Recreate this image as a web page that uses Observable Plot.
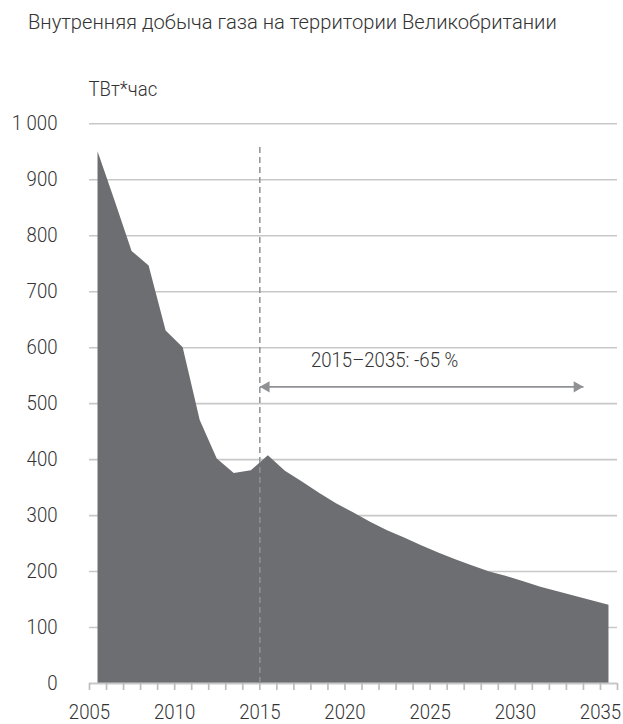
<!DOCTYPE html>
<html>
<head>
<meta charset="utf-8">
<script src="https://cdn.jsdelivr.net/npm/d3@7"></script>
<script src="https://cdn.jsdelivr.net/npm/@observablehq/plot@0.6"></script>
<style>
  html, body { margin: 0; padding: 0; background: #fff; }
  body { width: 623px; height: 724px; overflow: hidden; font-family: Roboto, "Noto Sans", sans-serif; font-weight: 300; color: #333; }
  #title { height: 50px; box-sizing: border-box; padding-top: 10px; font-size: 21px; line-height: 25px; white-space: nowrap; }
  #title span { display: inline-block; margin-left: 28px; transform-origin: left center; transform: scaleX(0.96); }
</style>
</head>
<body>
<div id="title"><span>Внутренняя добыча газа на территории Великобритании</span></div>
<div id="chart"></div>
<script>
// ---- data ----
const years = [2005, 2006, 2007, 2008, 2009, 2010, 2011, 2012, 2013, 2014, 2015,
               2016, 2017, 2018, 2019, 2020, 2021, 2022, 2023, 2024, 2025,
               2026, 2027, 2028, 2029, 2030, 2031, 2032, 2033, 2034, 2035];
const production = [950, 862, 772, 746, 630, 600, 470, 401, 375, 380, 407,
                    379, 360, 340, 321, 305, 288, 273, 260, 246, 233,
                    221, 210, 199, 191, 182, 172, 164, 156, 148, 140];
const yTicks = [0, 100, 200, 300, 400, 500, 600, 700, 800, 900, 1000];
const xTicks = d3.range(2005, 2037);
const unitLabel = "ТВт*час";
const markerYear = 2015;
const markerTop = 960;
const spanStart = 2015;
const spanEnd = 2034;
const spanLevel = 530;
const spanLabel = "2015–2035: -65 %";
const spanLabelYear = 2018;
const spanLabelLevel = 566;

const data = years.map((y, i) => ({year: y, value: production[i]}));
const fmt = d3.formatLocale({decimal: ",", thousands: " ", grouping: [3], currency: ["", ""]}).format(",d");

const gray = "#8f9195";
const gridColor = "#c8c8c8";
const textColor = "#333333";

const chart = Plot.plot({
  width: 623,
  height: 674,
  marginLeft: 89,
  marginRight: 6,
  marginTop: 73.3,
  marginBottom: 41,
  style: {fontFamily: "Roboto, 'Noto Sans', sans-serif", fontSize: "20px", fontWeight: 300, color: textColor, background: "#fff"},
  x: {domain: [2005, 2036]},
  y: {domain: [0, 1000]},
  marks: [
    Plot.ruleY(yTicks.filter(d => d > 0), {stroke: gridColor, strokeWidth: 1.6}),
    Plot.areaY(data, {x: d => d.year + 0.5, y: "value", fill: "#6d6e71", curve: "linear"}),
    Plot.ruleY([0], {stroke: gridColor, strokeWidth: 2}),
    Plot.axisY({ticks: yTicks, tickSize: 0, tickPadding: 32, tickFormat: fmt, fill: textColor, label: null}),
    Plot.axisX({ticks: xTicks, tickSize: 7, tickPadding: 14, stroke: "#bdbdbd", strokeWidth: 1.7,
                tickFormat: d => d % 5 === 0 ? String(d) : "", fill: textColor, label: null}),
    Plot.ruleX([markerYear], {y1: 0, y2: markerTop, stroke: gray, strokeWidth: 1.5, strokeDasharray: "6,4"}),
    Plot.link([{x1: spanStart, x2: spanEnd}], {x1: "x1", x2: "x2", y1: spanLevel, y2: spanLevel, stroke: gray, strokeWidth: 1.6}),
    Plot.dot([spanStart], {x: d => d, y: spanLevel, symbol: "triangle", r: 4.2, rotate: -90, dx: 6.5, fill: gray, stroke: null}),
    Plot.dot([spanEnd], {x: d => d, y: spanLevel, symbol: "triangle", r: 4.2, rotate: 90, dx: -6.5, fill: gray, stroke: null}),
    Plot.text([spanLabel], {x: spanLabelYear, y: spanLabelLevel, text: d => d, textAnchor: "start", lineAnchor: "bottom", fill: textColor}),
    Plot.text([unitLabel], {x: 2005, y: 1000, text: d => d, textAnchor: "start", lineAnchor: "bottom", dy: -28.3, dx: -1, fill: textColor})
  ]
});
document.getElementById("chart").appendChild(chart);

// narrow the glyphs slightly to approach the condensed face of the original
const squeeze = 0.93;
chart.querySelectorAll("text").forEach(t => {
  const w = t.getComputedTextLength();
  if (w > 0) {
    t.setAttribute("textLength", (w * squeeze).toFixed(2));
    t.setAttribute("lengthAdjust", "spacingAndGlyphs");
  }
});
</script>
</body>
</html>
